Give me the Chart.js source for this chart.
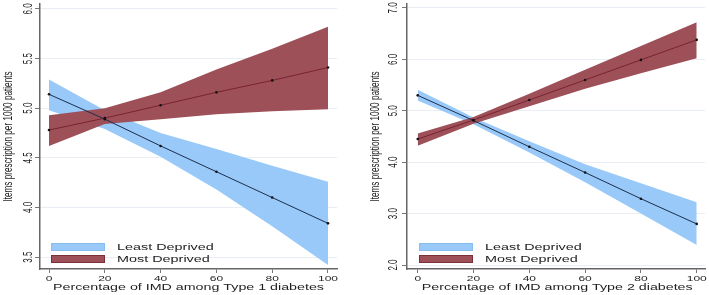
<!DOCTYPE html>
<html>
<head>
<meta charset="utf-8">
<script src="https://cdn.jsdelivr.net/npm/chart.js@4/dist/chart.umd.min.js"></script>
<style>
  html, body { margin: 0; padding: 0; background: #fff; }
  #wrap { display: flex; width: 709px; height: 295px; }
  canvas { display: block; }
</style>
</head>
<body>
<div id="wrap">
  <canvas id="type1Chart" width="354" height="295"></canvas>
  <canvas id="type2Chart" width="355" height="295"></canvas>
</div>
<script>
// ==========================
// DATA
// ==========================

const xValues = [0, 20, 40, 60, 80, 100];
const xTickLabels = ["0", "20", "40", "60", "80", "100"];
const seriesNames = ["Least Deprived", "Most Deprived"];
const yTitle = "Items prescription per 1000 patients";
const xTitles = [
    "Percentage of IMD among Type 1 diabetes",
    "Percentage of IMD among Type 2 diabetes"
];

// Type 1 panel
const t1YTicks = [3.5, 4.0, 4.5, 5.0, 5.5, 6.0];
const t1LeastMean  = [5.14, 4.89, 4.62, 4.36, 4.10, 3.84];
const t1LeastUpper = [5.29, 4.98, 4.75, 4.59, 4.42, 4.26];
const t1LeastLower = [4.98, 4.79, 4.51, 4.18, 3.81, 3.42];
const t1MostMean   = [4.78, 4.90, 5.03, 5.16, 5.28, 5.41];
const t1MostUpper  = [4.93, 5.00, 5.16, 5.39, 5.60, 5.82];
const t1MostLower  = [4.62, 4.84, 4.89, 4.94, 4.97, 4.99];

// Type 2 panel
const t2YTicks = [2.0, 3.0, 4.0, 5.0, 6.0, 7.0];
const t2LeastMean  = [5.30, 4.81, 4.30, 3.80, 3.29, 2.80];
const t2LeastUpper = [5.41, 4.87, 4.41, 3.96, 3.59, 3.22];
const t2LeastLower = [5.20, 4.74, 4.19, 3.61, 3.00, 2.39];
const t2MostMean   = [4.45, 4.82, 5.21, 5.60, 5.99, 6.38];
const t2MostUpper  = [4.56, 4.88, 5.33, 5.80, 6.26, 6.72];
const t2MostLower  = [4.32, 4.75, 5.09, 5.43, 5.73, 6.02];

// ==========================
// STYLE
// ==========================

const blueFill = "#98c9f8";
const blueEdge = "#88bdf0";
const blueLine = "#1d2e4e";
const redFill  = "#9e5059";
const redEdge  = "#7c2e3a";
const redLine  = "#7a2232";
const textColor = "#1e1e1e";
const FONT = '"Liberation Sans", Arial, sans-serif';
const SX = 1.5; // horizontal stretch of the source image

function xy(values) {
    return xValues.map((x, i) => ({ x: x, y: values[i] }));
}

function drawStretched(ctx, text, x, y, angle, size, align) {
    ctx.save();
    ctx.translate(x, y);
    ctx.scale(SX, 1);
    ctx.rotate(angle);
    ctx.font = size + "px " + FONT;
    ctx.fillStyle = textColor;
    ctx.textAlign = align || "center";
    ctx.textBaseline = "middle";
    ctx.fillText(text, 0, 0);
    ctx.restore();
}

// ==========================
// TEXT + LEGEND PLUGIN
// ==========================

const panelText = {
    id: "panelText",
    afterDraw(chart, args, o) {
        const ctx = chart.ctx;
        const xs = chart.scales.x;
        const ys = chart.scales.y;
        const area = chart.chartArea;

        // y tick labels (rotated)
        o.yTicks.forEach(v => {
            drawStretched(ctx, v.toFixed(1), o.yLabelX,
                ys.getPixelForValue(v), -Math.PI / 2, 8);
        });

        // y title
        drawStretched(ctx, yTitle, o.yTitleX,
            (area.top + area.bottom) / 2, -Math.PI / 2, 8.2);

        // x tick labels
        xValues.forEach((v, i) => {
            drawStretched(ctx, xTickLabels[i],
                xs.getPixelForValue(v), area.bottom + 10, 0, 8);
        });

        // x title
        drawStretched(ctx, o.xTitle, xs.getPixelForValue(50),
            area.bottom + 18.5, 0, 9.5);

        // legend
        const lx = xs.getPixelForValue(0) + o.legendDx;
        const fills = [blueFill, redFill];
        const edges = [blueEdge, redEdge];
        const tops = [area.bottom - 26, area.bottom - 14];
        seriesNames.forEach((name, i) => {
            ctx.save();
            ctx.fillStyle = fills[i];
            ctx.strokeStyle = edges[i];
            ctx.lineWidth = 1;
            ctx.fillRect(lx, tops[i], 54, 8);
            ctx.strokeRect(lx + 0.5, tops[i] + 0.5, 53, 7);
            ctx.restore();
            drawStretched(ctx, name, lx + 66, tops[i] + 4.5, 0, 9.6, "left");
        });
    }
};

// ==========================
// CHART BUILDER
// ==========================

function makePanel(canvasId, p) {

    const bandBase = {
        borderWidth: 0,
        borderColor: "rgba(0,0,0,0)",
        pointRadius: 0,
        tension: 0
    };

    const lineBase = {
        borderWidth: 1,
        pointRadius: 1.3,
        pointBorderWidth: 0,
        pointBackgroundColor: "#111",
        fill: false,
        tension: 0,
        order: 0
    };

    return new Chart(document.getElementById(canvasId), {

        type: "line",

        data: {
            datasets: [
                Object.assign({}, lineBase, {
                    label: seriesNames[0],
                    data: xy(p.leastMean),
                    borderColor: blueLine
                }),
                Object.assign({}, lineBase, {
                    label: seriesNames[1],
                    data: xy(p.mostMean),
                    borderColor: redLine
                }),
                Object.assign({}, bandBase, {
                    label: seriesNames[0] + " upper",
                    data: xy(p.leastUpper),
                    backgroundColor: blueFill,
                    fill: "+1",
                    order: 2
                }),
                Object.assign({}, bandBase, {
                    label: seriesNames[0] + " lower",
                    data: xy(p.leastLower),
                    fill: false,
                    order: 2
                }),
                Object.assign({}, bandBase, {
                    label: seriesNames[1] + " upper",
                    data: xy(p.mostUpper),
                    backgroundColor: redFill,
                    fill: "+1",
                    order: 1
                }),
                Object.assign({}, bandBase, {
                    label: seriesNames[1] + " lower",
                    data: xy(p.mostLower),
                    fill: false,
                    order: 1
                })
            ]
        },

        options: {
            responsive: false,
            animation: false,
            events: [],
            layout: {
                padding: { top: 2, right: p.padRight, left: 0, bottom: 0 }
            },
            plugins: {
                legend: { display: false },
                tooltip: { enabled: false },
                panelText: {
                    yTicks: p.yTicks,
                    xTitle: p.xTitle,
                    yLabelX: p.yLabelX,
                    yTitleX: p.yTitleX,
                    legendDx: p.legendDx
                }
            },
            scales: {
                x: {
                    type: "linear",
                    min: p.xMin,
                    max: p.xMax,
                    afterBuildTicks: s => {
                        s.ticks = xValues.map(v => ({ value: v }));
                    },
                    afterFit: s => { s.height = 26; },
                    ticks: { display: false },
                    grid: {
                        drawOnChartArea: false,
                        tickLength: 4,
                        tickColor: "#777"
                    },
                    border: { color: "#666", width: 1.5 }
                },
                y: {
                    type: "linear",
                    min: p.yMin,
                    max: p.yMax,
                    afterBuildTicks: s => {
                        s.ticks = p.yTicks.map(v => ({ value: v }));
                    },
                    afterFit: s => { s.width = p.axisLeft; },
                    ticks: { display: false },
                    grid: {
                        color: "#e8eef4",
                        tickColor: "#777",
                        tickLength: 5
                    },
                    border: { color: "#666", width: 1.5 }
                }
            }
        },

        plugins: [panelText]
    });
}

// ==========================
// PANELS
// ==========================

makePanel("type1Chart", {
    leastMean: t1LeastMean, leastUpper: t1LeastUpper, leastLower: t1LeastLower,
    mostMean: t1MostMean, mostUpper: t1MostUpper, mostLower: t1MostLower,
    yTicks: t1YTicks, xTitle: xTitles[0],
    axisLeft: 40, padRight: 17,
    xMin: -3.23, xMax: 103.23,
    yMin: 3.38, yMax: 6.05,
    yLabelX: 29, yTitleX: 8.5, legendDx: 2
});

makePanel("type2Chart", {
    leastMean: t2LeastMean, leastUpper: t2LeastUpper, leastLower: t2LeastLower,
    mostMean: t2MostMean, mostUpper: t2MostUpper, mostLower: t2MostLower,
    yTicks: t2YTicks, xTitle: xTitles[1],
    axisLeft: 53, padRight: 4,
    xMin: -3.84, xMax: 102.97,
    yMin: 1.923, yMax: 7.077,
    yLabelX: 39.3, yTitleX: 22, legendDx: 1.3
});
</script>
</body>
</html>
